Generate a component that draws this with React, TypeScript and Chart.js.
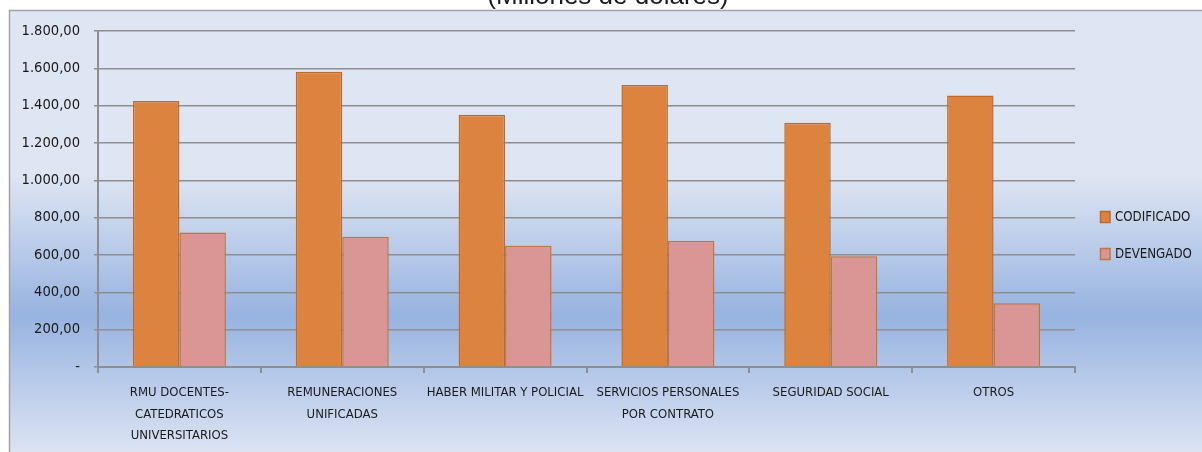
import { useEffect, useRef } from "react";
import { Chart, registerables } from "chart.js";

Chart.register(...registerables);

const categories: (string | string[])[] = [
  ["RMU DOCENTES-", "CATEDRATICOS", "UNIVERSITARIOS"],
  ["REMUNERACIONES", "UNIFICADAS"],
  "HABER MILITAR Y POLICIAL",
  ["SERVICIOS PERSONALES", "POR CONTRATO"],
  "SEGURIDAD SOCIAL",
  "OTROS",
];
const seriesNames = ["CODIFICADO", "DEVENGADO"];
const codificado = [1425, 1582, 1351, 1511, 1308, 1455];
const devengado = [720, 698, 650, 677, 593, 342];
const yTicks = [0, 200, 400, 600, 800, 1000, 1200, 1400, 1600, 1800];
const titleText = "(Millones de dólares)";

const NARROW = "'Liberation Sans Narrow', 'Arial Narrow', 'DejaVu Sans Condensed', sans-serif";
const GRID = "#8e8e8e";

function fmt(v: number): string {
  if (v === 0) return "-";
  const s = v.toFixed(2).replace(".", ",");
  const [i, d] = s.split(",");
  return i.replace(/\B(?=(\d{3})+(?!\d))/g, ".") + "," + d;
}

export default function App() {
  const ref = useRef<HTMLCanvasElement>(null);

  useEffect(() => {
    const canvas = ref.current!;
    const bgPlugin = {
      id: "bg",
      beforeDraw(chart: any) {
        const ctx = chart.ctx as CanvasRenderingContext2D;
        const W = chart.width;
        const H = chart.height;
        ctx.save();
        ctx.fillStyle = "#ffffff";
        ctx.fillRect(0, 0, W, H);
        const g = ctx.createLinearGradient(0, 10, 0, H);
        g.addColorStop(0, "#dfe6f3");
        g.addColorStop(0.37, "#dfe6f3");
        g.addColorStop(0.69, "#97b3e0");
        g.addColorStop(1, "#dbe3f3");
        ctx.fillStyle = g;
        ctx.fillRect(9, 10, W - 9, H - 10);
        ctx.strokeStyle = "#a3a3a3";
        ctx.lineWidth = 1.5;
        ctx.beginPath();
        ctx.moveTo(9.5, H + 2);
        ctx.lineTo(9.5, 10.5);
        ctx.lineTo(W + 2, 10.5);
        ctx.stroke();
        ctx.fillStyle = "#1a1a1a";
        ctx.font = "26px 'Liberation Sans', Arial, sans-serif";
        ctx.textAlign = "center";
        ctx.textBaseline = "alphabetic";
        ctx.fillText(titleText, 608, 4);
        ctx.restore();
      },
      afterDraw(chart: any) {
        const ctx = chart.ctx as CanvasRenderingContext2D;
        ctx.save();
        const ys = [217, 254];
        chart.data.datasets.forEach((ds: any, i: number) => {
          ctx.fillStyle = ds.backgroundColor;
          ctx.strokeStyle = ds.borderColor;
          ctx.lineWidth = 1.5;
          ctx.fillRect(1100, ys[i] - 6, 10, 12);
          ctx.strokeRect(1100.5, ys[i] - 5.5, 9.5, 11);
          ctx.fillStyle = "#1a1a1a";
          ctx.font = `13.2px ${NARROW}`;
          ctx.textAlign = "left";
          ctx.textBaseline = "middle";
          ctx.fillText(ds.label, 1115, ys[i] + 1);
        });
        ctx.restore();
      },
    };

    const chart = new Chart(canvas, {
      type: "bar",
      data: {
        labels: categories,
        datasets: [
          {
            label: seriesNames[0],
            data: codificado,
            backgroundColor: "#dc843f",
            borderColor: "#bf6a2c",
            borderWidth: 1.5,
            categoryPercentage: 0.571,
            barPercentage: 1,
          },
          {
            label: seriesNames[1],
            data: devengado,
            backgroundColor: "#da9694",
            borderColor: "#c4743a",
            borderWidth: 1.5,
            categoryPercentage: 0.571,
            barPercentage: 1,
          },
        ],
      },
      options: {
        animation: false,
        responsive: false,
        maintainAspectRatio: false,
        layout: { padding: { top: 31, right: 127, left: 0, bottom: 0 } },
        plugins: {
          legend: { display: false },
          title: { display: false },
          tooltip: { enabled: false },
        },
        scales: {
          x: {
            offset: true,
            grid: {
              display: true,
              drawOnChartArea: false,
              offset: true,
              drawTicks: true,
              tickLength: 6,
              color: GRID,
              lineWidth: 2,
            },
            border: { display: true, color: GRID, width: 2 },
            ticks: {
              color: "#1a1a1a",
              font: { family: NARROW, size: 13, lineHeight: 1.65 },
              padding: 9,
              maxRotation: 0,
              autoSkip: false,
            },
            afterFit(scale: any) {
              scale.height = 85;
            },
          },
          y: {
            min: 0,
            max: 1800,
            afterBuildTicks(scale: any) {
              scale.ticks = yTicks.map((v) => ({ value: v }));
            },
            grid: {
              color: GRID,
              lineWidth: 1.5,
              drawTicks: true,
              tickLength: 4,
            },
            border: { display: true, color: GRID, width: 2 },
            ticks: {
              color: "#1a1a1a",
              font: { family: NARROW, size: 14.6 },
              padding: 14,
              callback: (v: any) => fmt(Number(v)),
            },
            afterFit(scale: any) {
              scale.width = 98;
            },
          },
        },
      },
      plugins: [bgPlugin],
    });
    return () => chart.destroy();
  }, []);

  return (
    <div style={{ position: "absolute", left: 0, top: 0, width: 1202, height: 452 }}>
      <canvas ref={ref} width={1202} height={452} style={{ display: "block", width: 1202, height: 452 }} />
    </div>
  );
}
